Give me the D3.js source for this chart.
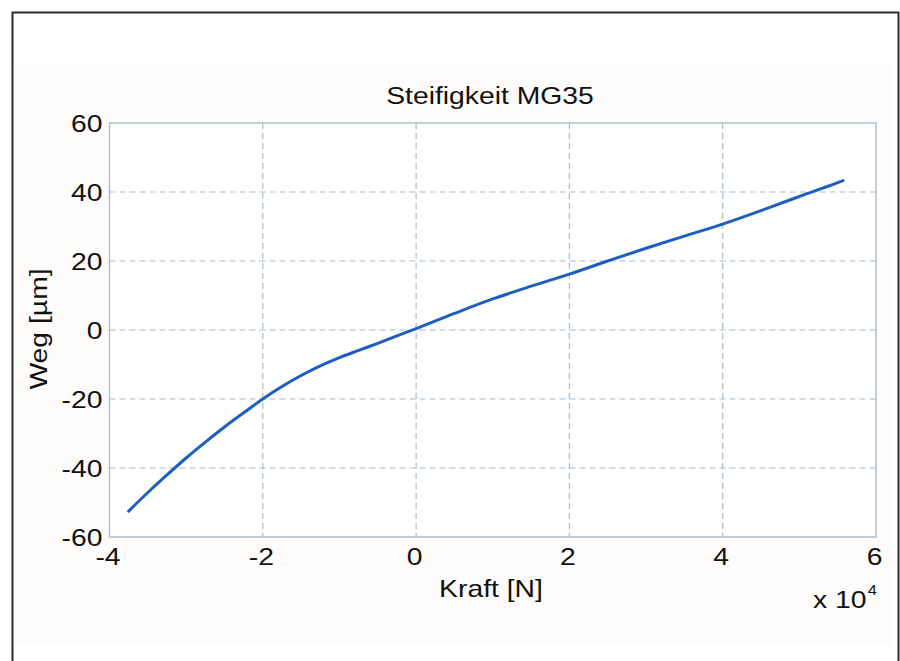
<!DOCTYPE html>
<html>
<head>
<meta charset="utf-8">
<script src="https://cdn.jsdelivr.net/npm/d3@7/dist/d3.min.js"></script>
<style>
  html, body { margin: 0; padding: 0; background: #ffffff; }
  svg { display: block; }
  text { font-family: "Liberation Sans", Arial, Helvetica, sans-serif; fill: #111; }
</style>
</head>
<body>
<script>
// Stiffness measurement MG35: force (N) vs. displacement (µm)
const force = [-37500, -35000, -32500, -30000, -27500, -25000, -22500, -20000,
               -17500, -15000, -12500, -10000, -7500, -5000, -2500, 0,
               5000, 10000, 15000, 20000, 25000, 30000, 35000, 40000,
               45000, 50000, 55000, 55700];
const displacement = [-52.5, -47.1, -42.0, -37.1, -32.5, -28.1, -24.0, -20.0,
                      -16.4, -13.2, -10.4, -8.0, -5.9, -3.85, -1.7, 0.4,
                      4.8, 9.0, 12.7, 16.2, 20.0, 23.7, 27.2, 30.7,
                      34.6, 38.7, 42.7, 43.3];
const xTicks = [-40000, -20000, 0, 20000, 40000, 60000];
const yTicks = [-60, -40, -20, 0, 20, 40, 60];
const titleText = "Steifigkeit MG35";
const xLabel = "Kraft [N]";
const yLabel = "Weg [µm]";

const W = 900, H = 661;
const plot = { left: 109.5, right: 876, top: 123, bottom: 537 };
const stretch = 1.18;   // the figure's fonts are drawn slightly wide
const fmt = v => String(v);  // plain hyphen for negative numbers

const svg = d3.select("body").append("svg").attr("width", W).attr("height", H);

// page frame and figure background
svg.append("rect").attr("x", 12).attr("y", 65).attr("width", 880).attr("height", 580)
  .attr("fill", "#fefcfa");
svg.append("rect").attr("x", 12.5).attr("y", 12.5).attr("width", 886).attr("height", 700)
  .attr("fill", "none").attr("stroke", "#2b2b2b").attr("stroke-width", 2);

const x = d3.scaleLinear().domain([-40000, 60000]).range([plot.left, plot.right]);
const y = d3.scaleLinear().domain([-60, 60]).range([plot.bottom, plot.top]);

svg.append("rect")
  .attr("x", plot.left).attr("y", plot.top)
  .attr("width", plot.right - plot.left).attr("height", plot.bottom - plot.top)
  .attr("fill", "#ffffff");

// dashed grid
const grid = svg.append("g").attr("stroke", "#a7bccd").attr("stroke-width", 1.2)
  .attr("stroke-dasharray", "6,4").attr("fill", "none");
grid.selectAll("line.v").data(xTicks.slice(1, -1)).join("line").attr("class", "v")
  .attr("x1", d => x(d)).attr("x2", d => x(d))
  .attr("y1", plot.top).attr("y2", plot.bottom);
grid.selectAll("line.h").data(yTicks.slice(1, -1)).join("line").attr("class", "h")
  .attr("y1", d => y(d)).attr("y2", d => y(d))
  .attr("x1", plot.left).attr("x2", plot.right);

// axis box
svg.append("rect")
  .attr("x", plot.left).attr("y", plot.top)
  .attr("width", plot.right - plot.left).attr("height", plot.bottom - plot.top)
  .attr("fill", "none").attr("stroke", "#aebfcd").attr("stroke-width", 1.5);

// axes (labels only, MATLAB-style)
const xAxis = d3.axisBottom(x).tickValues(xTicks).tickSize(0).tickPadding(0)
  .tickFormat(d => fmt(d / 10000));
const yAxis = d3.axisLeft(y).tickValues(yTicks).tickSize(0).tickPadding(0)
  .tickFormat(fmt);

const gx = svg.append("g").attr("transform", `translate(0,${plot.bottom})`).call(xAxis);
const gy = svg.append("g").attr("transform", `translate(${plot.left},0)`).call(yAxis);
[gx, gy].forEach(g => { g.select(".domain").remove(); });

gx.selectAll(".tick text")
  .attr("y", 0).attr("dy", 0)
  .attr("transform", `translate(-2,28) scale(${stretch},1)`)
  .attr("font-size", 24).attr("font-family", "Liberation Sans, Arial, sans-serif")
  .attr("fill", "#111");
gy.selectAll(".tick text")
  .attr("x", 0).attr("dy", "0.36em")
  .attr("transform", `translate(-7,0) scale(${stretch},1)`)
  .attr("font-size", 24).attr("font-family", "Liberation Sans, Arial, sans-serif")
  .attr("fill", "#111");

// curve
const line = d3.line().x((d, i) => x(force[i])).y(d => y(d)).curve(d3.curveMonotoneX);
svg.append("path").datum(displacement)
  .attr("d", line)
  .attr("fill", "none").attr("stroke", "#1c5fc0").attr("stroke-width", 3)
  .attr("stroke-linejoin", "round").attr("stroke-linecap", "round");

// title and axis labels
svg.append("text").attr("transform", `translate(490,104) scale(${stretch},1)`)
  .attr("text-anchor", "middle").attr("font-size", 24).text(titleText);
svg.append("text").attr("transform", `translate(491,597) scale(${stretch},1)`)
  .attr("text-anchor", "middle").attr("font-size", 24).text(xLabel);
svg.append("text").attr("transform", `translate(47,329) rotate(-90) scale(${stretch},1)`)
  .attr("text-anchor", "middle").attr("font-size", 24).text(yLabel);

// exponent of the x axis
const ex = svg.append("text").attr("transform", `translate(813,608) scale(${stretch},1)`)
  .attr("font-size", 24);
ex.append("tspan").text("x 10");
ex.append("tspan").attr("font-size", 14).attr("dy", -13).attr("dx", 1).text("4");
</script>
</body>
</html>
